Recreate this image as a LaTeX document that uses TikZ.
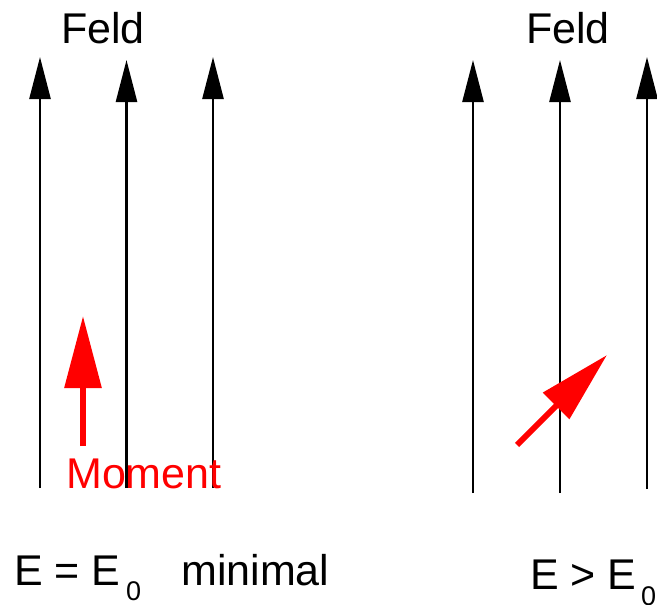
\documentclass[tikz,border=0pt]{standalone}
\usepackage{fontspec}
\setmainfont{Liberation Sans}
\usetikzlibrary{arrows.meta}
\begin{document}
\begin{tikzpicture}[x=1pt,y=-1pt,
  fieldline/.style={line width=2.6pt,-{Triangle[length=42pt,width=21pt]}},
  moment/.style={red,line width=6pt,-{Triangle[length=72pt,width=36pt]}},
  bigtext/.style={inner sep=0pt,anchor=base west,font=\fontsize{43}{50}\selectfont},
  subtext/.style={inner sep=0pt,anchor=base west,font=\fontsize{27}{32}\selectfont}]
\useasboundingbox (0,0) rectangle (657,605);
% left group
\coordinate (la0) at (40,488);  \coordinate (la1) at (40,57);
\coordinate (lb0) at (126.5,488); \coordinate (lb1) at (126.5,60);
\coordinate (lc0) at (213,488); \coordinate (lc1) at (213,57);
\draw[fieldline] (la0) -- (la1);
\draw[fieldline] (lb0) -- (lb1);
\draw[fieldline] (lc0) -- (lc1);
% right group
\coordinate (ra0) at (473,493); \coordinate (ra1) at (473,60);
\coordinate (rb0) at (560,493); \coordinate (rb1) at (560,60);
\coordinate (rc0) at (647,489); \coordinate (rc1) at (647,57);
\draw[fieldline] (ra0) -- (ra1);
\draw[fieldline] (rb0) -- (rb1);
\draw[fieldline] (rc0) -- (rc1);
% labels top
\node[bigtext] (feldl) at (61,43) {Feld};
\node[bigtext] (feldr) at (526,43) {Feld};
% moments
\coordinate (m0) at (83,446); \coordinate (m1) at (83,316);
\draw[moment] (m0) -- (m1);
\coordinate (n0) at (517,445); \coordinate (n1) at (607,355);
\draw[moment] (n0) -- (n1);
\node[bigtext,text=red] (mom) at (66,488) {Moment};
% bottom labels
\node[bigtext] (eq) at (14,585) {E = E};
\node[subtext] (eqsub) at (126,600) {0};
\node[bigtext] (mini) at (181,585) {minimal};
\node[bigtext] (gt) at (530,589) {E > E};
\node[subtext] (gtsub) at (641,605) {0};
\end{tikzpicture}
\end{document}
